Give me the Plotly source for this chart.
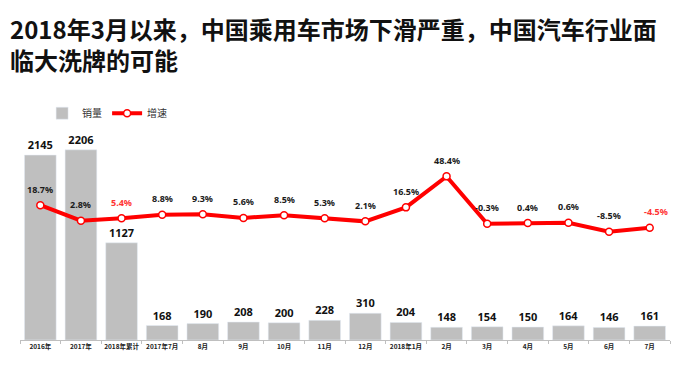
import plotly.graph_objects as go

categories = ["2016年", "2017年", "2018年累计", "2017年7月", "8月", "9月", "10月", "11月",
              "12月", "2018年1月", "2月", "3月", "4月", "5月", "6月", "7月"]
sales = [2145, 2206, 1127, 168, 190, 208, 200, 228, 310, 204, 148, 154, 150, 164, 146, 161]
growth = [18.7, 2.8, 5.4, 8.8, 9.3, 5.6, 8.5, 5.3, 2.1, 16.5, 48.4, -0.3, 0.4, 0.6, -8.5, -4.5]
highlight = [2, 15]
title_lines = ["2018年3月以来，中国乘用车市场下滑严重，中国汽车行业面", "临大洗牌的可能"]

growth_text = [f"{v}%" for v in growth]

fig = go.Figure()
fig.add_trace(go.Bar(
    x=categories, y=sales, name="销量",
    marker=dict(color="#bfbfbf"),
    width=0.78,
    text=[str(v) for v in sales], textposition="outside",
    textfont=dict(family="Noto Sans", size=11, color="#111111", weight="bold"),
    cliponaxis=False,
))
fig.add_trace(go.Scatter(
    x=categories, y=growth, name="增速", yaxis="y2",
    mode="lines+markers",
    line=dict(color="#ff0000", width=4),
    marker=dict(size=7, color="white", line=dict(color="#ff0000", width=1.5)),
    cliponaxis=False,
))

for i, (c, v, t) in enumerate(zip(categories, growth, growth_text)):
    fig.add_annotation(
        x=c, y=v, xref="x", yref="y2", text=t, showarrow=False,
        yshift=16, xshift=6 if i == len(categories) - 1 else 0,
        font=dict(family="Noto Sans", size=9, weight="bold",
                  color="#ff3333" if i in highlight else "#1a1a1a"),
    )

fig.add_annotation(
    x=-0.0185, y=1.38, xref="paper", yref="paper",
    xanchor="left", yanchor="top", align="left", showarrow=False,
    text="<br>".join(title_lines),
    font=dict(family="Noto Sans CJK SC", size=24, color="#111111", weight="bold"),
)

fig.update_layout(
    width=672, height=360,
    margin=dict(l=12, r=10, t=92, b=28),
    paper_bgcolor="white", plot_bgcolor="white",
    showlegend=True,
    legend=dict(orientation="h", x=0.034, y=0.945, xanchor="left", yanchor="middle",
                font=dict(family="Noto Sans CJK SC", size=10, color="#333333"),
                bgcolor="rgba(0,0,0,0)"),
    xaxis=dict(
        type="category", range=[-0.5, len(categories) - 0.5],
        showline=True, linecolor="#bfbfbf", linewidth=1,
        ticks="outside", tickson="boundaries", ticklen=3, tickcolor="#bfbfbf",
        tickangle=0, automargin=False,
        tickfont=dict(family="Noto Sans CJK SC", size=6.5, color="#222222", weight="bold"),
        showgrid=False, zeroline=False,
    ),
    yaxis=dict(range=[0, 2784], visible=False, showgrid=False, zeroline=False, automargin=False),
    yaxis2=dict(range=[-120, 127], overlaying="y", visible=False, showgrid=False,
                zeroline=False, automargin=False),
)

fig.write_html("out.html")
